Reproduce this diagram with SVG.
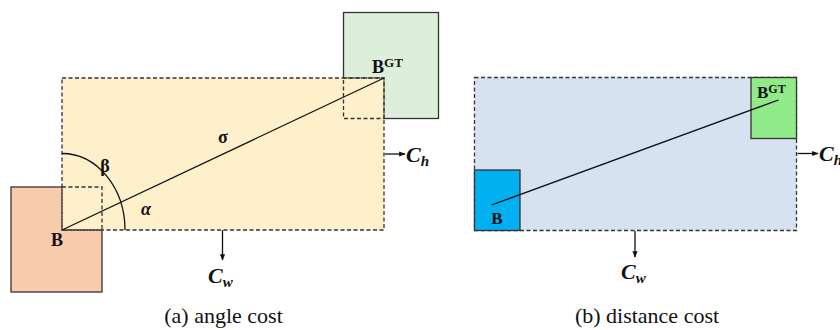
<svg xmlns="http://www.w3.org/2000/svg" width="840" height="330" viewBox="0 0 840 330">
<defs>
<marker id="ah" viewBox="0 0 10 10" refX="9" refY="5" markerWidth="5" markerHeight="5" orient="auto"><path d="M0,1 L10,5 L0,9 z" fill="#111"/></marker>
<style>
.solid{stroke:#333;stroke-width:1.3}
.dash{stroke:#333;stroke-width:1.3;stroke-dasharray:4,2.5}
.nofill{fill:none}
.lbl{font-family:"Liberation Serif",serif;font-weight:bold;fill:#111}
.cap{font-family:"Liberation Serif",serif;font-size:22px;fill:#111;text-anchor:middle}
.cm{font-family:"Liberation Serif",serif;font-weight:bold;font-style:italic;fill:#111}
.ln{stroke:#111;stroke-width:1.3;fill:none}
</style>
</defs>
<rect width="840" height="330" fill="#fff"/>

<!-- Panel (a) -->
<g id="a-B">
<rect x="11" y="187" width="91" height="105" fill="#F8CBAD" class="solid"/>
</g>
<g id="a-BGT">
<rect x="343.5" y="12.5" width="95" height="106" fill="#DDEEDA" class="solid"/>
</g>
<g id="a-enclose">
<rect x="62" y="78" width="322" height="152" fill="#FFF0CC" class="dash"/>
<rect x="62" y="187" width="40" height="43" class="dash nofill"/>
<rect x="343.5" y="78" width="40.5" height="40.5" class="dash nofill"/>
</g>
<g id="a-connectors">
<line x1="62" y1="230" x2="384" y2="78" class="ln"/>
<path d="M62,153.5 A63,76.5 0 0 1 125,230" class="ln"/>
<line x1="222.5" y1="230" x2="222.5" y2="260" class="ln" marker-end="url(#ah)"/>
<line x1="385" y1="154" x2="405" y2="154" class="ln" marker-end="url(#ah)"/>
</g>
<g id="a-labels">
<text x="57" y="246" class="lbl" font-size="18" text-anchor="middle">B</text>
<text x="372" y="73" class="lbl" font-size="18">B<tspan font-size="13" dy="-6">GT</tspan></text>
<text x="105" y="172" class="lbl" font-size="18" text-anchor="middle">β</text>
<text x="146" y="215" class="lbl" font-size="18" font-style="italic" text-anchor="middle">α</text>
<text x="223" y="143" class="lbl" font-size="18" text-anchor="middle">σ</text>
<text x="208" y="283" class="cm" font-size="22">C<tspan font-size="15" dy="4">w</tspan></text>
<text x="406" y="162" class="cm" font-size="22">C<tspan font-size="15" dy="4">h</tspan></text>
<text x="223.5" y="323" class="cap">(a) angle cost</text>
</g>

<!-- Panel (b) -->
<g id="b-enclose">
<rect x="474.5" y="77.5" width="322" height="153" fill="#D7E2F1" class="dash"/>
</g>
<g id="b-B">
<rect x="474.5" y="170" width="45.5" height="60.5" fill="#00B0F0" class="solid"/>
</g>
<g id="b-BGT">
<rect x="751" y="77.5" width="45.5" height="61" fill="#90EA87" class="solid"/>
</g>
<g id="b-connectors">
<line x1="491.5" y1="205" x2="778.5" y2="100" class="ln"/>
<line x1="635" y1="231" x2="635" y2="257" class="ln" marker-end="url(#ah)"/>
<line x1="797.5" y1="153.5" x2="818" y2="153.5" class="ln" marker-end="url(#ah)"/>
</g>
<g id="b-labels">
<text x="497" y="224" class="lbl" font-size="17" text-anchor="middle">B</text>
<text x="757" y="98" class="lbl" font-size="17">B<tspan font-size="12" dy="-5">GT</tspan></text>
<text x="621" y="279" class="cm" font-size="22">C<tspan font-size="15" dy="4">w</tspan></text>
<text x="819" y="161" class="cm" font-size="22">C<tspan font-size="15" dy="4">h</tspan></text>
<text x="647" y="323" class="cap">(b) distance cost</text>
</g>
</svg>
